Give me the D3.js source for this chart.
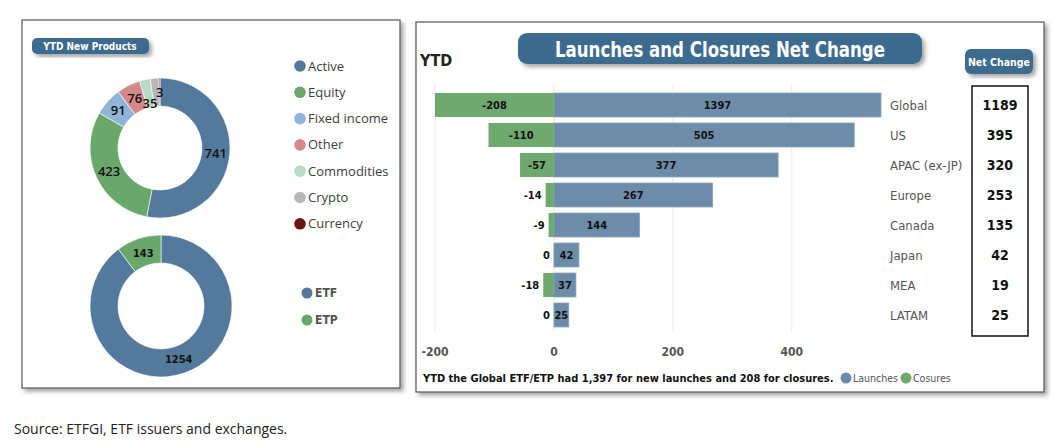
<!DOCTYPE html>
<html>
  <head>
    <script src="https://d3js.org/d3.v7.min.js"></script>
    <style>
      body { margin: 0; background: #fff; }
      .cond { font-family: "DejaVu Sans Condensed", "DejaVu Sans", sans-serif; font-stretch: condensed; }
      .seg { font-family: "Open Sans", "Noto Sans", sans-serif; }
    </style>
  </head>
  <body>
    <svg id="chart" width="1060" height="444"></svg>

    <script>
      // donut 1: new products by asset class
      const assetClasses = ["Active", "Equity", "Fixed income", "Other", "Commodities", "Crypto", "Currency"];
      const assetValues = [741, 423, 91, 76, 35, 28, 3];
      const assetColors = ["#53799c", "#6aa76b", "#8fb5db", "#d48a8a", "#b5dcc5", "#b7b7b7", "#6b1515"];
      const assetLabelShown = [true, true, true, true, true, false, true];

      // donut 2: ETF vs ETP
      const productTypes = ["ETF", "ETP"];
      const productValues = [1254, 143];
      const productColors = ["#53799c", "#6aa76b"];

      // bar chart: launches / closures by region
      const regions = ["Global", "US", "APAC (ex-JP)", "Europe", "Canada", "Japan", "MEA", "LATAM"];
      const launches = [1397, 505, 377, 267, 144, 42, 37, 25];
      const closures = [-208, -110, -57, -14, -9, 0, -18, 0];
      const xTicks = [-200, 0, 200, 400];

      const svg = d3.select("#chart");
      const defs = svg.append("defs");
      const shadow = defs.append("filter").attr("id", "shadow")
        .attr("x", "-10%").attr("y", "-10%").attr("width", "130%").attr("height", "130%");
      shadow.append("feDropShadow").attr("dx", 3).attr("dy", 3).attr("stdDeviation", 2)
        .attr("flood-color", "#000").attr("flood-opacity", 0.35);

      // panel boxes
      svg.append("rect").attr("x", 22).attr("y", 20).attr("width", 378).attr("height", 368)
        .attr("fill", "#fff").attr("stroke", "#555").attr("stroke-width", 1.2).attr("filter", "url(#shadow)");
      svg.append("rect").attr("x", 416).attr("y", 22).attr("width", 628).attr("height", 370)
        .attr("fill", "#fff").attr("stroke", "#555").attr("stroke-width", 1.2).attr("filter", "url(#shadow)");

      // ---- left panel ----
      svg.append("rect").attr("x", 32).attr("y", 38).attr("width", 117).attr("height", 16).attr("rx", 5)
        .attr("fill", "#3e6a8f").attr("filter", "url(#shadow)");
      svg.append("text").attr("class", "cond").attr("x", 90).attr("y", 50)
        .attr("text-anchor", "middle").attr("fill", "#fff").attr("font-size", 10).attr("font-weight", "bold")
        .text("YTD New Products");

      const pie = d3.pie().sort(null).value(d => d);

      function donut(values, colors, cx, cy, rOut, rIn) {
        const g = svg.append("g").attr("transform", `translate(${cx},${cy})`);
        const arc = d3.arc().innerRadius(rIn).outerRadius(rOut);
        const arcs = pie(values);
        g.selectAll("path").data(arcs).join("path")
          .attr("d", arc).attr("fill", (d, i) => colors[i])
          .attr("stroke", "#fff").attr("stroke-width", 0.6);
        return { g, arcs, arc };
      }

      const d1 = donut(assetValues, assetColors, 160, 148, 70, 42);
      const labArc = d3.arc().innerRadius(56).outerRadius(56);
      const labArcSmall = d3.arc().innerRadius(46).outerRadius(46);
      d1.g.selectAll("text").data(d1.arcs.filter((d, i) => assetLabelShown[i])).join("text")
        .attr("class", "seg")
        .attr("transform", d => {
          const p = (d.data === 35 ? labArcSmall : labArc).centroid(d);
          return `translate(${p[0]},${p[1]})`;
        })
        .attr("text-anchor", "middle").attr("dy", "0.35em")
        .attr("font-size", 13).attr("font-weight", 600).attr("fill", "#111")
        .text(d => d.data);

      const d2 = donut(productValues, productColors, 161, 306, 71, 43);
      d2.g.selectAll("text").data(d2.arcs).join("text")
        .attr("class", "cond")
        .attr("transform", d => `translate(${labArc.centroid(d)})`)
        .attr("text-anchor", "middle").attr("dy", "0.35em")
        .attr("font-size", 11).attr("font-weight", "bold").attr("fill", "#111")
        .text(d => d.data);

      // legends
      const leg1 = svg.append("g").selectAll("g").data(assetClasses).join("g")
        .attr("transform", (d, i) => `translate(300,${66 + i * 26.3})`);
      leg1.append("circle").attr("r", 5.8).attr("fill", (d, i) => assetColors[i]);
      leg1.append("text").attr("class", "seg").attr("x", 8).attr("dy", "0.35em")
        .attr("font-size", 13).attr("fill", "#404040").text(d => d);

      const leg2 = svg.append("g").selectAll("g").data(productTypes).join("g")
        .attr("transform", (d, i) => `translate(307,${293 + i * 27})`);
      leg2.append("circle").attr("r", 5.5).attr("fill", (d, i) => productColors[i]);
      leg2.append("text").attr("class", "cond").attr("x", 8).attr("dy", "0.35em")
        .attr("font-size", 12).attr("font-weight", "bold").attr("fill", "#555").text(d => d);

      // ---- right panel ----
      svg.append("rect").attr("x", 518).attr("y", 33).attr("width", 404).attr("height", 31).attr("rx", 9)
        .attr("fill", "#3e6a8f").attr("filter", "url(#shadow)");
      svg.append("text").attr("class", "cond").attr("x", 720).attr("y", 56.5)
        .attr("text-anchor", "middle").attr("fill", "#fff").attr("font-size", 21).attr("font-weight", "bold")
        .attr("textLength", 330).attr("lengthAdjust", "spacingAndGlyphs")
        .text("Launches and Closures Net Change");

      svg.append("text").attr("class", "cond").attr("x", 420).attr("y", 66)
        .attr("font-size", 16).attr("font-weight", "bold").attr("fill", "#222").text("YTD");

      svg.append("rect").attr("x", 965).attr("y", 49).attr("width", 68).attr("height", 25).attr("rx", 6)
        .attr("fill", "#3e6a8f").attr("filter", "url(#shadow)");
      svg.append("text").attr("class", "cond").attr("x", 999).attr("y", 65.5)
        .attr("text-anchor", "middle").attr("fill", "#fff").attr("font-size", 10.5).attr("font-weight", "bold")
        .text("Net Change");

      const x = d3.scaleLinear().domain([-200, 550]).range([435, 881]).clamp(true);
      const y = d3.scaleBand().domain(regions).range([90, 330]).paddingInner(0.2).paddingOuter(0.1);

      // grid
      svg.append("g").selectAll("line").data(xTicks).join("line")
        .attr("x1", d => x(d)).attr("x2", d => x(d))
        .attr("y1", 84).attr("y2", 332)
        .attr("stroke", "#ececec").attr("stroke-width", 1);

      // axis labels
      svg.append("g").selectAll("text").data(xTicks).join("text")
        .attr("class", "cond").attr("x", d => x(d)).attr("y", 356)
        .attr("text-anchor", "middle").attr("font-size", 12).attr("font-weight", "bold").attr("fill", "#555")
        .text(d => d);

      const rows = regions.map((r, i) => ({ region: r, launch: launches[i], close: closures[i] }));

      svg.append("g").selectAll("rect").data(rows).join("rect")
        .attr("x", x(0)).attr("y", d => y(d.region))
        .attr("width", d => x(d.launch) - x(0)).attr("height", y.bandwidth())
        .attr("fill", "#6c8ca9").attr("stroke", "#8aa5bd").attr("stroke-width", 0.8);

      svg.append("g").selectAll("rect").data(rows.filter(d => d.close < 0)).join("rect")
        .attr("x", d => x(d.close)).attr("y", d => y(d.region))
        .attr("width", d => x(0) - x(d.close)).attr("height", y.bandwidth())
        .attr("fill", "#70a96f");

      // bar labels
      svg.append("g").selectAll("text").data(rows).join("text")
        .attr("class", "cond")
        .attr("x", d => (x(0) + x(d.launch)) / 2).attr("y", d => y(d.region) + y.bandwidth() / 2)
        .attr("dy", "0.35em").attr("text-anchor", "middle")
        .attr("font-size", 11).attr("font-weight", "bold").attr("fill", "#111")
        .text(d => d.launch);

      svg.append("g").selectAll("text").data(rows).join("text")
        .attr("class", "cond")
        .attr("x", d => {
          const w = x(0) - x(d.close);
          return w > 28 ? (x(0) + x(d.close)) / 2 : x(d.close) - 4;
        })
        .attr("y", d => y(d.region) + y.bandwidth() / 2)
        .attr("dy", "0.35em")
        .attr("text-anchor", d => (x(0) - x(d.close) > 28 ? "middle" : "end"))
        .attr("font-size", 11).attr("font-weight", "bold").attr("fill", "#111")
        .text(d => d.close);

      // region names
      svg.append("g").selectAll("text").data(rows).join("text")
        .attr("class", "cond").attr("x", 890).attr("y", d => y(d.region) + y.bandwidth() / 2)
        .attr("dy", "0.35em").attr("font-size", 13).attr("fill", "#555")
        .text(d => d.region);

      // net change column
      svg.append("rect").attr("x", 972).attr("y", 86).attr("width", 56).attr("height", 250)
        .attr("fill", "none").attr("stroke", "#111").attr("stroke-width", 1.5);
      svg.append("g").selectAll("text").data(rows).join("text")
        .attr("class", "cond").attr("x", 1000).attr("y", d => y(d.region) + y.bandwidth() / 2)
        .attr("dy", "0.35em").attr("text-anchor", "middle")
        .attr("font-size", 14).attr("font-weight", "bold").attr("fill", "#111")
        .text(d => d.launch + d.close);

      // footer
      svg.append("text").attr("class", "cond").attr("x", 423).attr("y", 382)
        .attr("font-size", 11).attr("font-weight", "bold").attr("fill", "#111")
        .text("YTD the Global ETF/ETP had 1,397 for new launches and 208 for closures.");
      const leg3 = svg.append("g").selectAll("g").data([["Launches", "#6c8ca9", 846], ["Cosures", "#70a96f", 906]]).join("g")
        .attr("transform", d => `translate(${d[2]},378)`);
      leg3.append("circle").attr("r", 5.5).attr("fill", d => d[1]);
      leg3.append("text").attr("class", "cond").attr("x", 7).attr("dy", "0.35em")
        .attr("font-size", 10.5).attr("fill", "#555").text(d => d[0]);

      // source
      svg.append("text").attr("class", "seg").attr("x", 14).attr("y", 434)
        .attr("font-size", 14).attr("fill", "#222")
        .text("Source: ETFGI, ETF issuers and exchanges.");
    </script>
  </body>
</html>
